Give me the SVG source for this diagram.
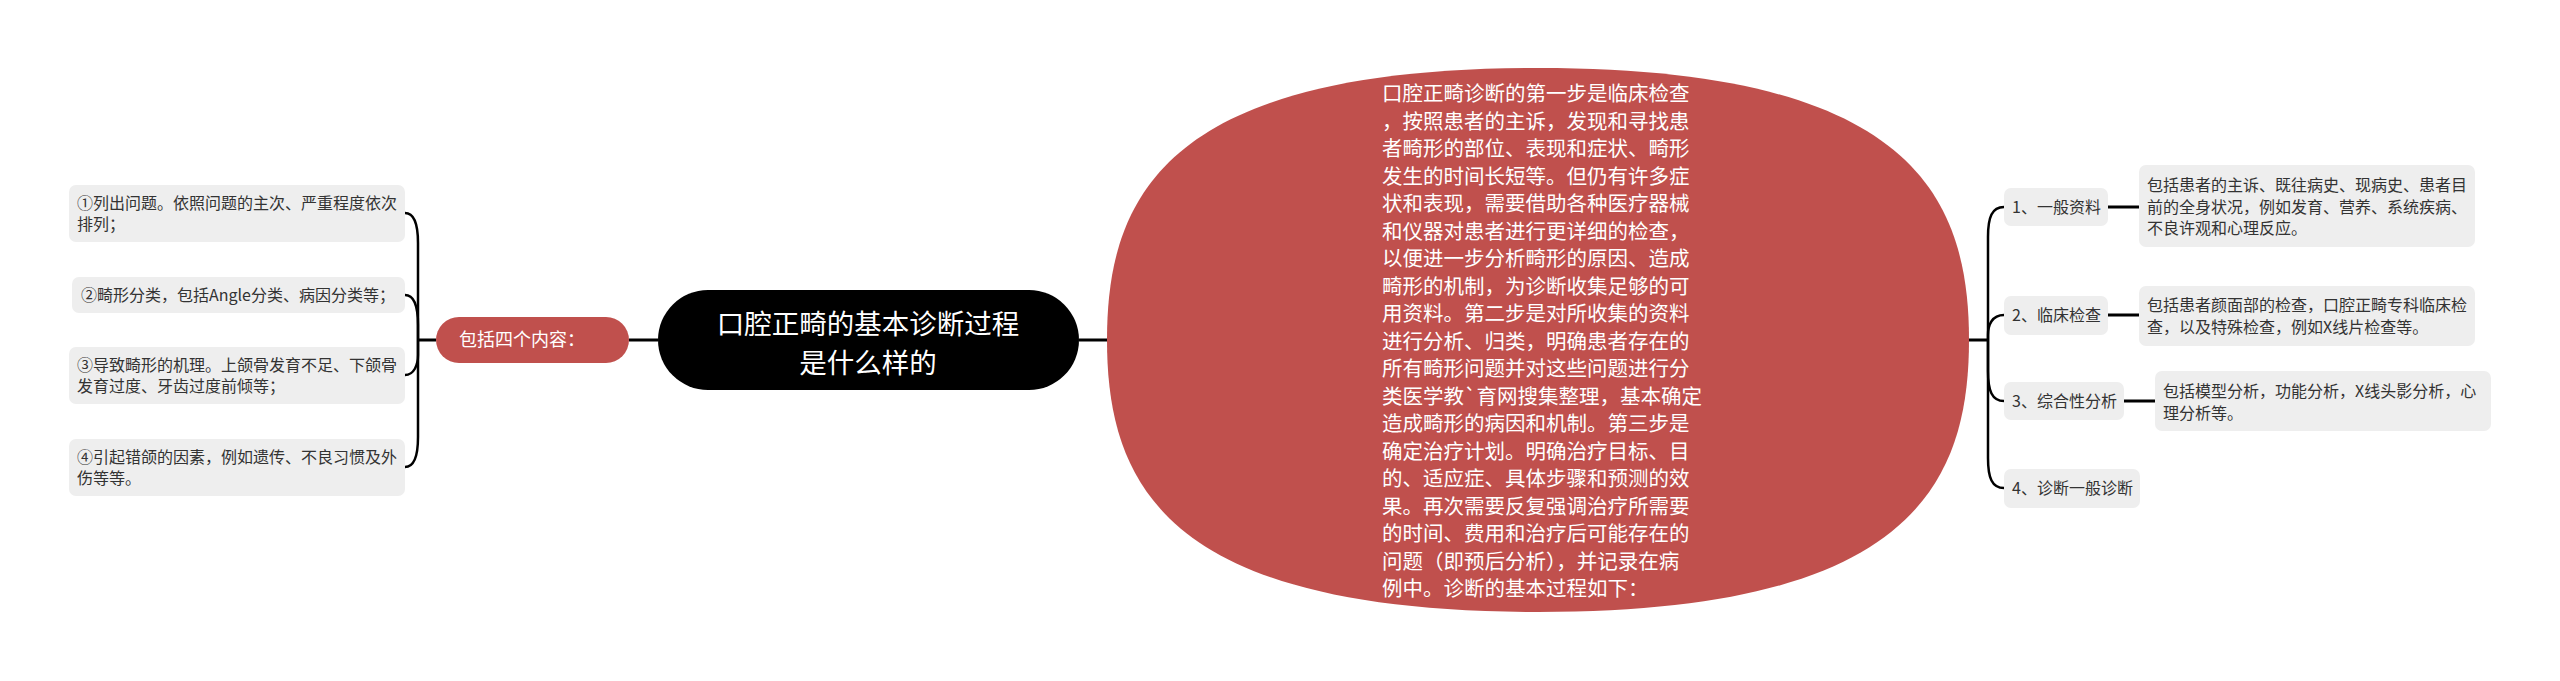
<svg xmlns="http://www.w3.org/2000/svg" width="2560" height="681" viewBox="0 0 2560 681">
<style>
text{font-family:"Noto Sans CJK SC","Noto Sans",sans-serif}
.box{fill:#eeeeee}
.t{font-size:16px;fill:#333333}
.red{fill:#c0504d}
.w{fill:#ffffff}
.c{fill:none;stroke:#000000;stroke-width:2.5}
.s{fill:none;stroke:#000000;stroke-width:3}
</style>
<rect width="2560" height="681" fill="#ffffff"/>
<g id="connectors">
<path class="s" d="M418,340H436M629,340H658M1079,340H1107M1968,340H1988"/>
<path class="c" d="M418,340V243C418,223 414,213 405,213"/>
<path class="c" d="M418,340V325C418,305 414,295 405,295"/>
<path class="c" d="M418,340V355C418,365 414,375 405,375"/>
<path class="c" d="M418,340V437C418,457 414,467 405,467"/>
<path class="c" d="M1988,340V237C1988,217 1992,207 2004,207"/>
<path class="c" d="M1988,340V335C1988,325 1992,315 2004,315"/>
<path class="c" d="M1988,340V371C1988,391 1992,401 2004,401"/>
<path class="c" d="M1988,340V458C1988,478 1992,488 2004,488"/>
<path class="s" d="M2108,207H2139M2108,315H2139M2124,401H2155"/>
</g>
<g id="root">
<rect x="658" y="290" width="421" height="100" rx="50" fill="#000000"/>
<text x="868" y="334" font-size="27.5" text-anchor="middle" class="w">口腔正畸的基本诊断过程</text>
<text x="868" y="372.5" font-size="27.5" text-anchor="middle" class="w">是什么样的</text>
</g>
<g id="left-branch">
<rect x="436" y="317" width="193" height="46" rx="23" class="red"/>
<text x="459" y="346" font-size="18" class="w">包括四个内容：</text>
</g>
<g id="left-1">
<rect x="69" y="185" width="336" height="57" rx="7" class="box"/>
<text x="77" y="209" class="t">①列出问题。依照问题的主次、严重程度依次</text>
<text x="77" y="230" class="t">排列；</text>
</g>
<g id="left-2">
<rect x="72" y="277" width="333" height="36" rx="7" class="box"/>
<text x="81" y="301" class="t">②畸形分类，包括Angle分类、病因分类等；</text>
</g>
<g id="left-3">
<rect x="69" y="347" width="336" height="57" rx="7" class="box"/>
<text x="77" y="371" class="t">③导致畸形的机理。上颌骨发育不足、下颌骨</text>
<text x="77" y="392" class="t">发育过度、牙齿过度前倾等；</text>
</g>
<g id="left-4">
<rect x="69" y="439" width="336" height="57" rx="7" class="box"/>
<text x="77" y="463" class="t">④引起错颌的因素，例如遗传、不良习惯及外</text>
<text x="77" y="484" class="t">伤等等。</text>
</g>
<g id="main">
<path class="red" d="M1538,68C1904,68 1969,190 1969,340C1969,490 1904,612 1538,612C1172,612 1107,490 1107,340C1107,190 1172,68 1538,68Z"/>
<g font-size="20.5" class="w">
<text x="1382" y="101">口腔正畸诊断的第一步是临床检查</text>
<text x="1382" y="128.5">，按照患者的主诉，发现和寻找患</text>
<text x="1382" y="156">者畸形的部位、表现和症状、畸形</text>
<text x="1382" y="183.5">发生的时间长短等。但仍有许多症</text>
<text x="1382" y="211">状和表现，需要借助各种医疗器械</text>
<text x="1382" y="238.5">和仪器对患者进行更详细的检查，</text>
<text x="1382" y="266">以便进一步分析畸形的原因、造成</text>
<text x="1382" y="293.5">畸形的机制，为诊断收集足够的可</text>
<text x="1382" y="321">用资料。第二步是对所收集的资料</text>
<text x="1382" y="348.5">进行分析、归类，明确患者存在的</text>
<text x="1382" y="376">所有畸形问题并对这些问题进行分</text>
<text x="1382" y="403.5">类医学教`育网搜集整理，基本确定</text>
<text x="1382" y="431">造成畸形的病因和机制。第三步是</text>
<text x="1382" y="458.5">确定治疗计划。明确治疗目标、目</text>
<text x="1382" y="486">的、适应症、具体步骤和预测的效</text>
<text x="1382" y="513.5">果。再次需要反复强调治疗所需要</text>
<text x="1382" y="541">的时间、费用和治疗后可能存在的</text>
<text x="1382" y="568.5">问题（即预后分析），并记录在病</text>
<text x="1382" y="596">例中。诊断的基本过程如下：</text>
</g>
</g>
<g id="right-1">
<rect x="2004" y="188" width="104" height="38" rx="7" class="box"/>
<text x="2012" y="213" class="t">1、一般资料</text>
</g>
<g id="right-1-desc">
<rect x="2139" y="165" width="336" height="82" rx="7" class="box"/>
<text x="2147" y="191" class="t">包括患者的主诉、既往病史、现病史、患者目</text>
<text x="2147" y="212.5" class="t">前的全身状况，例如发育、营养、系统疾病、</text>
<text x="2147" y="234" class="t">不良许观和心理反应。</text>
</g>
<g id="right-2">
<rect x="2004" y="296" width="104" height="39" rx="7" class="box"/>
<text x="2012" y="321" class="t">2、临床检查</text>
</g>
<g id="right-2-desc">
<rect x="2139" y="286" width="336" height="60" rx="7" class="box"/>
<text x="2147" y="311" class="t">包括患者颜面部的检查，口腔正畸专科临床检</text>
<text x="2147" y="332.5" class="t">查，以及特殊检查，例如X线片检查等。</text>
</g>
<g id="right-3">
<rect x="2004" y="382" width="120" height="38" rx="7" class="box"/>
<text x="2012" y="407" class="t">3、综合性分析</text>
</g>
<g id="right-3-desc">
<rect x="2155" y="371" width="336" height="60" rx="7" class="box"/>
<text x="2163" y="397" class="t">包括模型分析，功能分析，X线头影分析，心</text>
<text x="2163" y="418.5" class="t">理分析等。</text>
</g>
<g id="right-4">
<rect x="2004" y="469" width="136" height="39" rx="7" class="box"/>
<text x="2012" y="494" class="t">4、诊断一般诊断</text>
</g>
</svg>
